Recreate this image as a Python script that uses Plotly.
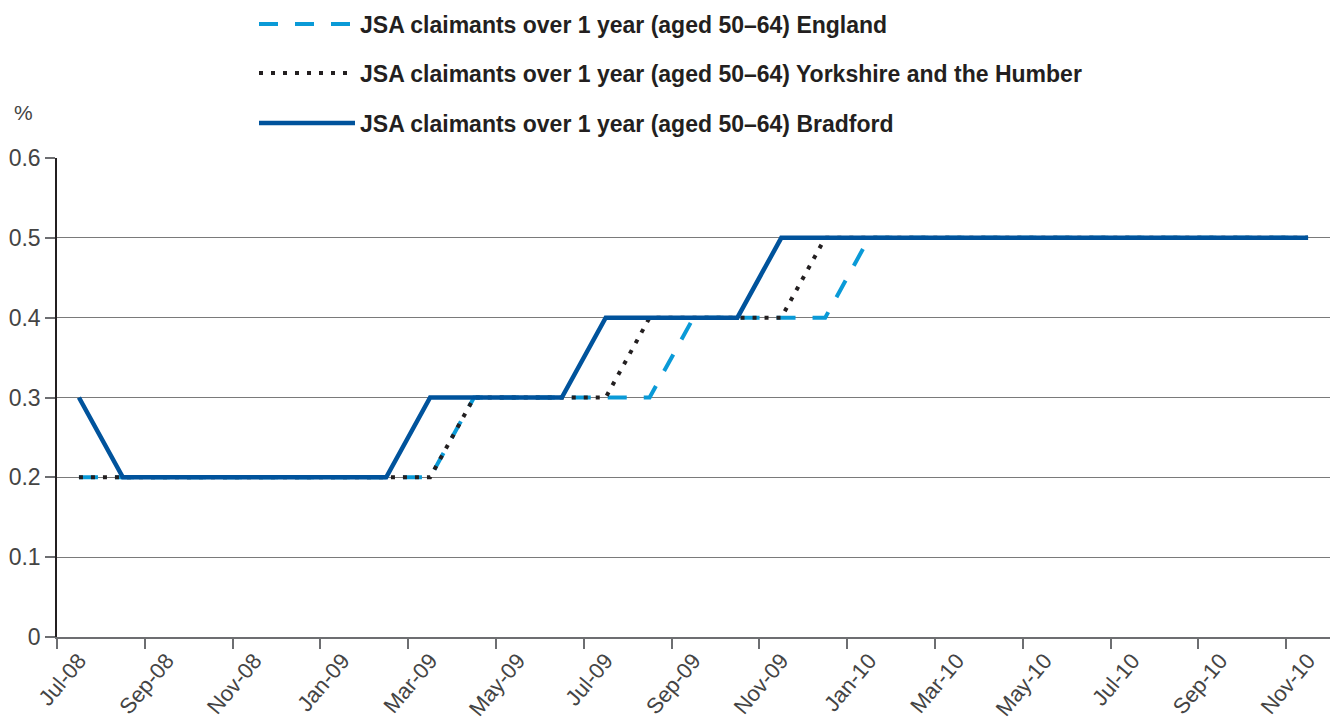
import plotly.graph_objects as go

months = [
    "Jul-08", "Aug-08", "Sep-08", "Oct-08", "Nov-08", "Dec-08",
    "Jan-09", "Feb-09", "Mar-09", "Apr-09", "May-09", "Jun-09",
    "Jul-09", "Aug-09", "Sep-09", "Oct-09", "Nov-09", "Dec-09",
    "Jan-10", "Feb-10", "Mar-10", "Apr-10", "May-10", "Jun-10",
    "Jul-10", "Aug-10", "Sep-10", "Oct-10", "Nov-10",
]
england = [0.2] * 9 + [0.3] * 5 + [0.4] * 4 + [0.5] * 11
yorkshire = [0.2] * 9 + [0.3] * 4 + [0.4] * 4 + [0.5] * 12
bradford = [0.3] + [0.2] * 7 + [0.3] * 4 + [0.4] * 4 + [0.5] * 13

series_names = [
    "JSA claimants over 1 year (aged 50\u201364) England",
    "JSA claimants over 1 year (aged 50\u201364) Yorkshire and the Humber",
    "JSA claimants over 1 year (aged 50\u201364) Bradford",
]
y_ticks = [0, 0.1, 0.2, 0.3, 0.4, 0.5, 0.6]
y_tick_labels = ["0", "0.1", "0.2", "0.3", "0.4", "0.5", "0.6"]

LIGHT_BLUE = "#0a9ad7"
DARK_BLUE = "#00539c"
DOT_BLACK = "#231f20"
FONT = "Liberation Sans, Arial, sans-serif"

W, H = 1332, 720
L, R, T, B = 57, 2, 158, 83
PW, PH = W - L - R, H - T - B


def px_x(x):
    return (x - L) / PW


def px_y(y):
    return (H - B - y) / PH


x = list(range(len(months)))
styles = [
    dict(color=LIGHT_BLUE, width=4, dash="19px,17px"),
    dict(color=DOT_BLACK, width=4, dash="4px,8px"),
    dict(color=DARK_BLUE, width=4.5, dash="solid"),
]

fig = go.Figure()
for name, values, style in zip(series_names, [england, yorkshire, bradford], styles):
    fig.add_trace(
        go.Scatter(x=x, y=values, name=name, mode="lines", line=style, showlegend=False)
    )

# hand-drawn legend to match the long line samples
legend_rows = [24, 73, 123]
shapes = []
annotations = []
for name, style, ypix in zip(series_names, styles, legend_rows):
    shapes.append(
        dict(
            type="line", xref="paper", yref="paper",
            x0=px_x(259), x1=px_x(355), y0=px_y(ypix), y1=px_y(ypix),
            line=style,
        )
    )
    annotations.append(
        dict(
            text=name, xref="paper", yref="paper",
            x=px_x(358), y=px_y(ypix + 1), xanchor="left", yanchor="middle",
            showarrow=False,
            font=dict(family=FONT, size=23, color="#231f20", weight="bold"),
        )
    )
annotations.append(
    dict(
        text="%", xref="paper", yref="paper", x=px_x(23), y=px_y(112),
        xanchor="center", yanchor="middle", showarrow=False,
        font=dict(family=FONT, size=21, color="#444444"),
    )
)

fig.update_layout(
    width=W,
    height=H,
    margin=dict(l=L, r=R, t=T, b=B),
    paper_bgcolor="white",
    plot_bgcolor="white",
    shapes=shapes,
    annotations=annotations,
    xaxis=dict(
        range=[-0.5, len(months) - 0.5],
        automargin=False,
        tickmode="array",
        tickvals=x[::2],
        ticktext=months[::2],
        tickangle=-50,
        ticks="",
        showgrid=False,
        zeroline=False,
        showline=True,
        linecolor="#6d6e71",
        linewidth=2,
        tickfont=dict(family=FONT, size=22, color="#444444"),
        minor=dict(
            tickmode="array",
            tickvals=[v - 0.5 for v in x[::2]],
            ticks="outside",
            ticklen=10,
            tickwidth=2,
            tickcolor="#6d6e71",
            showgrid=False,
        ),
    ),
    yaxis=dict(
        range=[0, 0.6],
        automargin=False,
        tickmode="array",
        tickvals=y_ticks,
        ticktext=y_tick_labels,
        ticks="outside",
        ticklen=10,
        tickwidth=1.5,
        tickcolor="#6d6e71",
        showgrid=True,
        gridcolor="#7a7a7a",
        gridwidth=1,
        zeroline=False,
        showline=True,
        linecolor="#231f20",
        linewidth=1.5,
        tickfont=dict(family=FONT, size=23, color="#444444"),
    ),
)

# drop the page's default body margin so the figure sits at the window corner
fig.write_html(
    "out.html",
    config={"displayModeBar": False},
    post_script="document.body.style.margin='0';",
)
